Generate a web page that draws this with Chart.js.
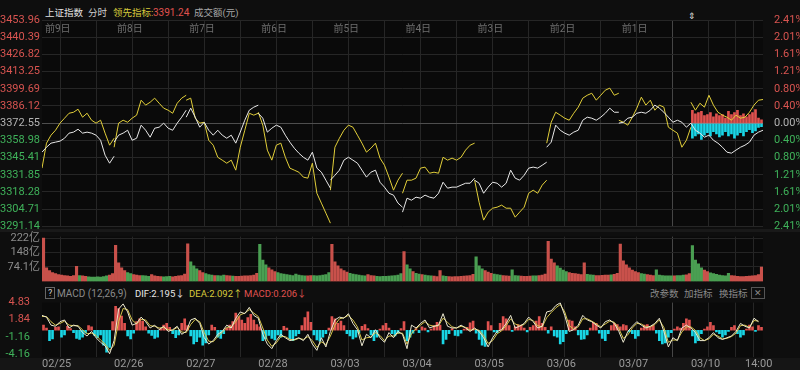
<!DOCTYPE html>
<html>
<head>
<meta charset="utf-8">
<title>上证指数 分时</title>
<script src="https://cdn.jsdelivr.net/npm/chart.js@4.4.1/dist/chart.umd.min.js"></script>
<style>
  body { margin: 0; background: #0e0e0e; width: 800px; height: 370px; overflow: hidden; position: relative;
         font-family: Roboto, "Noto Sans CJK SC", sans-serif; }
  canvas { position: absolute; left: 0; }
  .t { position: absolute; font-size: 9.5px; line-height: 12px; white-space: nowrap; }
  .band { position: absolute; left: 0; width: 800px; background: #191919; }
</style>
</head>
<body>
<div class="band" style="top:229px;height:3px"></div>
<div class="band" style="top:358px;height:12px;background:#151515"></div>

<span class="t" style="left:45px;top:7px;color:#e2e2e2">上证指数</span>
<span class="t" style="left:88px;top:7px;color:#cfcfcf">分时</span>
<span class="t" style="left:113px;top:7px;color:#d8cb3c">领先指标:</span>
<span class="t" id="leadNow" style="left:153px;top:7px;color:#e0524f;font-size:10px"></span>
<span class="t" style="left:194px;top:7px;color:#a8a8a8">成交额(元)</span>
<span class="t" style="left:688px;top:10px;color:#dddddd;font-size:9px">⇕</span>

<span class="t" style="left:45px;top:287px;color:#cfcfcf;border:1px solid #666;padding:0 2px;font-size:9px;line-height:10px">?</span>
<span class="t" style="left:57px;top:288px;color:#8a8a8a;font-size:10px">MACD (12,26,9)</span>
<span class="t" style="left:135px;top:288px;color:#e8e8e8">DIF:2.195↓</span>
<span class="t" style="left:189px;top:288px;color:#d8cb3c">DEA:2.092↑</span>
<span class="t" style="left:244px;top:288px;color:#e0524f">MACD:0.206↓</span>
<span class="t" style="left:650px;top:288px;color:#8a8a8a">改参数</span>
<span class="t" style="left:684px;top:288px;color:#8a8a8a">加指标</span>
<span class="t" style="left:719px;top:288px;color:#8a8a8a">换指标</span>
<span class="t" style="left:751px;top:287px;color:#8a8a8a;border:1px solid #555;padding:0 2px;font-size:9px;line-height:10px">✕</span>

<canvas id="mainChart" width="800" height="236" style="top:0"></canvas>
<canvas id="volChart" width="800" height="62" style="top:228px"></canvas>
<canvas id="macdChart" width="800" height="78" style="top:292px"></canvas>

<script>
// 10 trading days, 240 minutes each
const dates = ['02/25', '02/26', '02/27', '02/28', '03/03', '03/04', '03/05', '03/06', '03/07', '03/10'];
const dayTags = ['前9日', '前8日', '前7日', '前6日', '前5日', '前4日', '前3日', '前2日', '前1日'];
const preClose = 3372.55;
const leftTicks = [3453.96, 3440.39, 3426.82, 3413.25, 3399.69, 3386.12, 3372.55, 3358.98, 3345.41, 3331.85, 3318.28, 3304.71, 3291.14];
const volTicks = [74.1, 148, 222];
const macdTicks = [4.83, 1.84, -1.16, -4.16];

// index (white), every 15 minutes
const indexPrice = [
  [3349.7, 3353.6, 3356.8, 3357.6, 3358.4, 3360.7, 3364.7, 3365.5, 3367.8, 3364.7, 3365.5, 3364.7, 3363.1, 3359.1, 3347.3, 3341.0, 3346.5],
  [3357.6, 3363.1, 3364.7, 3367.0, 3359.1, 3360.7, 3371.0, 3367.0, 3361.5, 3368.6, 3369.4, 3372.6, 3368.6, 3367.0, 3372.6, 3377.3, 3382.8],
  [3377.3, 3384.4, 3377.3, 3369.4, 3373.3, 3367.0, 3363.1, 3367.0, 3363.1, 3360.7, 3363.1, 3356.8, 3365.5, 3374.9, 3382.8, 3385.2, 3386.8],
  [3380.4, 3376.5, 3365.5, 3368.6, 3371.0, 3369.4, 3363.1, 3357.6, 3352.8, 3348.9, 3345.7, 3343.4, 3349.7, 3337.1, 3333.9, 3327.6, 3321.3],
  [3327.6, 3331.5, 3335.5, 3343.4, 3345.7, 3343.4, 3341.0, 3335.5, 3330.0, 3333.9, 3335.5, 3326.0, 3322.1, 3317.3, 3315.8, 3309.5, 3306.3],
  [3302.4, 3313.4, 3311.8, 3314.2, 3313.4, 3315.8, 3314.2, 3313.4, 3317.3, 3326.0, 3321.3, 3322.1, 3322.1, 3323.7, 3325.2, 3325.2, 3329.2],
  [3327.6, 3325.2, 3317.3, 3322.1, 3326.0, 3325.2, 3322.1, 3325.2, 3335.5, 3329.2, 3327.6, 3331.5, 3337.1, 3337.9, 3337.1, 3339.4, 3341.8],
  [3353.6, 3357.6, 3371.0, 3367.0, 3364.7, 3363.1, 3365.5, 3367.0, 3374.9, 3377.3, 3376.5, 3374.9, 3377.3, 3380.4, 3384.4, 3381.2, 3381.2],
  [3372.6, 3373.3, 3376.5, 3377.3, 3380.4, 3381.2, 3380.4, 3382.8, 3386.8, 3384.4, 3381.2, 3377.3, 3373.3, 3374.9, 3373.3, 3369.4, 3372.55],
  [3372.6, 3367.0, 3364.7, 3361.5, 3363.1, 3359.1, 3356.8, 3353.6, 3349.7, 3348.9, 3351.3, 3353.6, 3355.2, 3357.6, 3363.1, 3365.5, 3367.0]
];

// 领先指标 (yellow), every 15 minutes
const leadLine = [
  [3337.1, 3356.8, 3363.1, 3367.0, 3372.6, 3376.5, 3380.4, 3381.2, 3383.6, 3377.3, 3380.4, 3374.9, 3372.6, 3374.9, 3364.7, 3355.2, 3360.7],
  [3353.6, 3372.6, 3374.9, 3373.3, 3376.5, 3378.9, 3390.7, 3386.8, 3389.1, 3392.3, 3388.3, 3384.4, 3382.8, 3380.4, 3388.3, 3392.3, 3394.6],
  [3390.7, 3392.3, 3376.5, 3372.6, 3373.3, 3359.1, 3355.2, 3345.7, 3343.4, 3341.0, 3343.4, 3335.5, 3353.6, 3367.0, 3380.4, 3378.9, 3380.4],
  [3381.2, 3371.0, 3351.3, 3343.4, 3355.2, 3356.8, 3345.7, 3337.1, 3335.5, 3333.9, 3330.0, 3329.2, 3341.0, 3317.3, 3309.5, 3301.6, 3293.7],
  [3319.7, 3353.6, 3360.7, 3367.0, 3371.0, 3369.4, 3363.1, 3356.8, 3349.7, 3352.8, 3356.8, 3345.0, 3339.4, 3330.0, 3319.7, 3327.6, 3333.1],
  [3317.3, 3327.6, 3327.6, 3329.2, 3337.1, 3337.9, 3333.1, 3333.9, 3333.1, 3345.7, 3343.4, 3345.0, 3343.4, 3345.7, 3351.3, 3355.2, 3356.8],
  [3327.6, 3310.2, 3296.1, 3302.4, 3305.5, 3306.3, 3307.9, 3305.5, 3305.5, 3298.4, 3302.4, 3306.3, 3317.3, 3319.7, 3317.3, 3323.7, 3327.6],
  [3356.8, 3373.3, 3381.2, 3378.9, 3376.5, 3374.9, 3380.4, 3385.2, 3392.3, 3394.6, 3396.2, 3390.7, 3394.6, 3398.6, 3400.2, 3394.6, 3396.2],
  [3374.9, 3373.3, 3371.0, 3377.3, 3384.4, 3393.1, 3386.8, 3390.7, 3382.8, 3386.8, 3385.2, 3369.4, 3367.0, 3364.7, 3353.6, 3359.1, 3369.4],
  [3389.1, 3382.8, 3388.3, 3385.2, 3394.6, 3386.8, 3381.2, 3378.9, 3377.3, 3374.9, 3378.9, 3376.5, 3377.3, 3381.2, 3386.8, 3390.7, 3391.24]
];

// today's buy / sell strength (%), every 10 minutes
const todayBuy = [0.30, 0.22, 0.25, 0.28, 0.18, 0.20, 0.25, 0.15, 0.22, 0.18, 0.20, 0.12, 0.28, 0.20, 0.25, 0.30, 0.18, 0.22, 0.15, 0.20, 0.25, 0.32, 0.12, 0.08];
const todaySell = [-0.35, -0.30, -0.25, -0.38, -0.28, -0.22, -0.30, -0.20, -0.25, -0.32, -0.28, -0.20, -0.30, -0.25, -0.35, -0.28, -0.22, -0.30, -0.20, -0.15, -0.22, -0.18, -0.10, -0.08];

// turnover (亿), every 10 minutes
const turnover = [
  [222, 70, 55, 45, 40, 35, 32, 30, 28, 26, 30, 77, 30, 28, 26, 24, 22, 22, 24, 22, 25, 28, 32, 40],
  [185, 95, 70, 55, 45, 40, 35, 32, 30, 30, 28, 26, 35, 28, 26, 25, 24, 25, 26, 24, 26, 28, 30, 38],
  [193, 100, 80, 65, 55, 45, 40, 35, 33, 30, 30, 28, 32, 30, 28, 27, 26, 26, 27, 28, 28, 30, 32, 42],
  [190, 110, 85, 70, 60, 50, 45, 40, 38, 35, 33, 30, 38, 33, 30, 28, 28, 30, 30, 28, 30, 32, 35, 45],
  [190, 100, 80, 65, 55, 48, 42, 38, 35, 32, 30, 28, 35, 30, 28, 26, 25, 26, 26, 27, 28, 30, 32, 40],
  [153, 85, 65, 50, 42, 38, 35, 32, 30, 28, 27, 25, 55, 28, 26, 25, 24, 25, 25, 26, 27, 28, 30, 36],
  [126, 80, 65, 55, 48, 42, 38, 35, 32, 30, 28, 27, 60, 30, 28, 27, 26, 26, 27, 28, 28, 30, 32, 38],
  [206, 115, 95, 80, 68, 58, 50, 45, 42, 40, 38, 35, 95, 36, 34, 32, 30, 30, 31, 32, 33, 34, 36, 42],
  [192, 105, 85, 70, 58, 50, 45, 40, 38, 35, 33, 30, 60, 33, 30, 28, 28, 28, 29, 30, 30, 32, 34, 40],
  [184, 110, 90, 70, 58, 50, 44, 40, 36, 33, 30, 28, 42, 30, 28, 26, 25, 25, 26, 27, 28, 30, 35, 73]
];

// MACD histogram, every 10 minutes
const macdBar = [
  [0.9, 0.4, -1.8, -1.5, 0.5, 0.6, -1.2, -0.8, 0.7, 0.3, -0.4, -1.4, -1.6, -1.2, -0.5, 0.8, 0.6, -0.9, -1.3, -0.8, -2.6, -3.8, -3.0, 1.5],
  [4.2, 3.8, 2.5, 1.2, -1.0, -1.5, -0.5, 1.5, 2.0, 1.6, 0.6, -0.5, -0.9, -1.4, -1.2, 0.3, 0.9, 1.2, 0.5, -0.6, -1.3, -0.8, 1.2, 2.0],
  [0.8, -1.0, -2.4, -2.0, -1.2, -2.6, -2.2, -0.8, 0.9, 0.5, -1.2, -1.4, -0.6, 0.4, 0.9, 1.5, 3.0, 2.4, 1.8, 1.2, 2.2, 2.8, 1.8, 1.0],
  [0.6, -1.8, -1.5, -0.9, -1.4, -1.7, -0.8, -1.2, 0.7, 0.4, -1.5, -1.8, -1.0, -0.6, 0.8, 2.2, 3.2, 1.4, -0.8, -1.7, -1.9, -1.2, -0.6, 0.4],
  [2.4, 2.0, 1.2, 1.6, 0.8, -0.6, -1.0, -1.5, -1.2, -0.4, 0.7, 1.0, 0.3, -0.8, -1.8, -1.2, 0.2, 0.8, 1.2, 0.4, -0.6, -1.0, -0.5, 0.3],
  [1.5, -1.8, -1.2, -0.5, 0.3, -0.4, 0.6, 0.4, -0.3, 0.2, 0.8, 1.4, 0.9, -2.4, -1.6, -0.6, 0.3, -0.9, -1.0, -0.5, 0.2, 0.5, 1.3, 1.6],
  [-0.5, -1.6, -2.6, -2.8, 1.5, 0.8, -0.3, -0.4, 1.2, 2.4, 2.0, 0.8, -0.2, 0.6, 1.0, 0.9, 0.4, -0.3, 0.5, 0.8, 1.6, 2.4, 1.2, 0.5],
  [-0.5, 0.6, -1.0, -1.2, -2.4, -2.0, -0.6, 1.8, 1.6, 0.6, -0.8, -1.6, -1.5, -0.8, 0.4, 1.4, 1.2, -0.5, -1.4, -1.8, -0.6, 0.8, 1.2, 1.0],
  [0.6, 1.0, 0.8, -0.3, -0.6, -1.4, -1.0, 0.4, 0.9, 1.0, 0.6, 0.8, -0.5, -1.8, -2.4, -2.2, -1.2, -0.4, 0.2, 0.6, 0.4, 1.2, 2.0, 1.8],
  [-1.0, -2.2, -1.8, -0.6, 0.2, 0.6, 1.4, 0.8, -0.3, -0.6, -1.2, -0.8, -0.2, 0.5, 0.8, -0.6, -1.2, -0.8, 0.2, 0.9, 0.6, -0.2, 0.8, 0.5]
];

// DIF / DEA, every 15 minutes
const dif = [
  [2.6, 2.3, 0.9, 0.7, 1.5, 1.8, 0.4, 0.9, 0.7, -0.4, -1.0, -0.2, -1.3, -2.1, -2.7, -4.1],
  [-1.8, 3.7, 4.6, 3.2, 0.9, 1.2, 2.3, 1.5, 0.4, 0.9, 0.1, 0.7, -0.2, 0.1, 0.7, -0.7],
  [-0.2, 1.8, 2.1, 1.2, -1.3, -2.4, -1.8, -0.7, -0.2, 0.9, 0.4, 2.1, 3.2, 2.9, 4.0, 2.6],
  [2.1, -0.7, -2.4, -3.2, -1.8, -0.7, -1.3, -1.8, -1.6, -1.3, -1.8, -0.7, -2.4, -3.5, -1.3, -2.9],
  [-0.2, 1.8, 2.3, 2.1, 2.9, 1.2, 0.1, -2.7, -0.7, -1.3, 0.1, -1.3, -2.1, -0.4, -1.3, -0.2],
  [-0.7, -3.2, 0.9, 0.4, 1.2, 1.8, 0.4, 0.7, 0.9, 2.9, 0.7, 0.4, 0.4, 0.9, 0.4, -0.2],
  [0.4, -0.2, -1.3, -2.9, -1.3, -0.2, 0.1, 1.2, 2.6, 0.4, 0.7, 1.2, 2.3, 1.5, 0.4, 0.7],
  [3.2, 3.4, 4.3, 4.8, 2.6, -0.2, 0.1, 0.9, 2.6, 1.8, 1.5, 0.9, 0.4, 1.5, 1.8, 1.2],
  [-0.2, -2.1, -0.2, 0.7, 1.5, 0.9, 0.4, 0.7, 1.2, 2.1, -0.2, -2.9, -1.3, -1.8, 0.4, 0.9],
  [0.4, -0.4, -1.8, -1.8, -1.3, -0.4, -1.3, -1.6, -1.3, -1.0, -0.2, 1.2, 0.7, 0.4, 2.1, 1.5]
];
const dea = [
  [2.4, 2.4, 1.5, 0.9, 1.2, 1.6, 0.9, 0.8, 0.8, 0.1, -0.6, -0.5, -0.9, -1.7, -2.4, -3.5],
  [-2.6, 1.5, 3.8, 3.6, 1.8, 1.1, 1.9, 1.8, 0.8, 0.7, 0.4, 0.5, 0.1, 0.0, 0.5, -0.3],
  [-0.4, 1.0, 1.9, 1.5, -0.4, -1.9, -2.0, -1.1, -0.4, 0.5, 0.6, 1.5, 2.7, 3.0, 3.6, 3.0],
  [2.4, 0.4, -1.7, -2.8, -2.2, -1.1, -1.1, -1.6, -1.7, -1.4, -1.6, -1.1, -1.8, -3.0, -2.0, -2.5],
  [-1.0, 0.9, 2.0, 2.2, 2.6, 1.8, 0.6, -1.7, -1.3, -1.2, -0.4, -0.9, -1.8, -1.0, -1.0, -0.5],
  [-0.5, -2.4, -0.6, 0.3, 0.9, 1.5, 0.9, 0.7, 0.8, 2.1, 1.4, 0.6, 0.4, 0.7, 0.5, 0.0],
  [0.2, 0.0, -0.9, -2.3, -1.8, -0.6, -0.1, 0.8, 2.0, 1.1, 0.8, 1.0, 1.9, 1.7, 0.8, 0.6],
  [2.2, 3.1, 3.9, 4.5, 3.2, 0.8, 0.2, 0.6, 2.0, 2.0, 1.6, 1.1, 0.6, 1.1, 1.6, 1.4],
  [0.3, -1.4, -0.8, 0.4, 1.2, 1.1, 0.6, 0.6, 1.0, 1.8, 0.5, -2.1, -1.7, -1.7, -0.3, 0.6],
  [0.6, 0.0, -1.3, -1.8, -1.5, -0.7, -1.0, -1.5, -1.4, -1.1, -0.5, 0.8, 0.9, 0.5, 1.7, 1.6]
];

const RED = '#e0524f', GREEN = '#3fae5a', CYAN = '#19d6e6';
const TXT_RED = '#d85450', TXT_GREEN = '#3fb25a', TXT_GREY = '#b4b4b4';
const DAY = 240;
const gridMarks = [];
for (let m = 0; m <= 2400; m += 120) gridMarks.push(m);
gridMarks.push(2340);
gridMarks.sort((a, b) => a - b);

document.getElementById('leadNow').textContent = leadLine[9][16].toFixed(2);

// price lines are broken between days
function dayLines(days) {
  const pts = [];
  days.forEach((vals, d) => {
    vals.forEach((v, k) => pts.push({ x: d * DAY + k * 15, y: v }));
    pts.push({ x: (d + 1) * DAY, y: null });
  });
  return pts;
}
const series = (days, step, off) => days.flatMap((vals, d) => vals.map((v, i) => ({ x: d * DAY + i * step + off, y: v })));

// volume bar colour follows the index move in that slot
const volPoints = turnover.flatMap((vals, d) => vals.map((v, i) => {
  const k = Math.floor((i * 10 + 5) / 15);
  const up = indexPrice[d][k + 1] >= indexPrice[d][k];
  return { x: d * DAY + i * 10 + 5, y: v, c: up ? '#c9514b' : '#4a9f52' };
}));

const pctOf = v => (v / preClose - 1) * 100;
const tone = v => v > 0.0001 ? TXT_RED : v < -0.0001 ? TXT_GREEN : TXT_GREY;

function xScale(showLabels) {
  return {
    type: 'linear', min: 0, max: 2400, offset: false,
    afterBuildTicks: s => { s.ticks = gridMarks.map(v => ({ value: v })); },
    afterFit: s => { s.height = showLabels ? 13 : 0; },
    ticks: {
      display: showLabels, autoSkip: false, maxRotation: 0, align: 'start', padding: 1,
      color: '#9a9a9a', font: { size: 11 },
      callback: v => v === 2340 ? '14:00' : (v % DAY === 0 && v < 2400 ? dates[v / DAY] : '')
    },
    grid: { color: c => c.tick && c.tick.value === 2160 ? '#464646' : '#262626', drawTicks: false },
    border: { display: false }
  };
}

const areaFill = {
  id: 'areaFill',
  beforeDraw(chart) {
    const { ctx, chartArea: a } = chart;
    ctx.save();
    ctx.fillStyle = '#0a0a0a';
    ctx.fillRect(a.left, a.top, a.right - a.left, a.bottom - a.top);
    ctx.restore();
  }
};

const dayTagPlugin = {
  id: 'dayTags',
  afterDraw(chart) {
    const { ctx, chartArea, scales } = chart;
    ctx.save();
    ctx.fillStyle = '#6e6e6e';
    ctx.font = '10px Roboto, "Noto Sans CJK SC"';
    ctx.textBaseline = 'middle';
    dayTags.forEach((t, d) => ctx.fillText(t, scales.x.getPixelForValue(d * DAY) + 3, chartArea.top + 9));
    ctx.restore();
  }
};

const common = {
  responsive: false, animation: false, events: [],
  elements: { point: { radius: 0 }, line: { borderWidth: 1, tension: 0 } },
  plugins: { legend: { display: false }, tooltip: { enabled: false } }
};
Chart.defaults.font.family = 'Roboto, "Noto Sans CJK SC", sans-serif';

new Chart(document.getElementById('mainChart'), {
  type: 'line',
  data: {
    datasets: [
      { type: 'bar', label: '买', data: series([todayBuy], 10, 9 * DAY + 5), backgroundColor: RED, barThickness: 2, grouped: false, yAxisID: 'pct', order: 3 },
      { type: 'bar', label: '卖', data: series([todaySell], 10, 9 * DAY + 5), backgroundColor: CYAN, barThickness: 2, grouped: false, yAxisID: 'pct', order: 3 },
      { label: '领先指标', data: dayLines(leadLine), borderColor: '#e2cf3a', yAxisID: 'y', order: 2 },
      { label: '上证指数', data: dayLines(indexPrice), borderColor: '#e8e8e8', yAxisID: 'y', order: 1 }
    ]
  },
  options: {
    ...common,
    layout: { autoPadding: false, padding: { top: 20, bottom: 8 } },
    scales: {
      x: xScale(false),
      y: {
        position: 'left', min: leftTicks[12], max: leftTicks[0],
        afterBuildTicks: s => { s.ticks = leftTicks.map(v => ({ value: v })); },
        afterFit: s => { s.width = 42; },
        ticks: { color: c => tone(c.tick.value - preClose), font: { size: 11 }, padding: 2, callback: v => v.toFixed(2) },
        grid: { color: c => c.tick && Math.abs(c.tick.value - preClose) < 0.001 ? '#4e4e4e' : '#262626', drawTicks: false },
        border: { display: false }
      },
      pct: {
        position: 'right', min: pctOf(leftTicks[12]), max: pctOf(leftTicks[0]),
        afterBuildTicks: s => { s.ticks = leftTicks.map(v => ({ value: pctOf(v) })); },
        afterFit: s => { s.width = 37; },
        ticks: { color: c => tone(c.tick.value), font: { size: 11 }, padding: 3, callback: v => Math.abs(v).toFixed(2) + '%' },
        grid: { display: false },
        border: { display: false }
      }
    }
  },
  plugins: [areaFill, dayTagPlugin]
});

new Chart(document.getElementById('volChart'), {
  type: 'bar',
  data: {
    datasets: [{ label: '成交额', data: volPoints, backgroundColor: c => c.raw ? c.raw.c : GREEN, barThickness: 2.5, grouped: false }]
  },
  options: {
    ...common,
    layout: { autoPadding: false, padding: { top: 5, bottom: 3, right: 37 } },
    scales: {
      x: xScale(false),
      y: {
        min: 0, max: 230,
        afterBuildTicks: s => { s.ticks = volTicks.map(v => ({ value: v })); },
        afterFit: s => { s.width = 42; },
        ticks: { color: '#8c8c8c', font: { size: 11 }, padding: 2, callback: v => v + '亿' },
        grid: { color: '#242424', drawTicks: false },
        border: { display: false }
      }
    }
  },
  plugins: [areaFill]
});

new Chart(document.getElementById('macdChart'), {
  type: 'bar',
  data: {
    datasets: [
      { type: 'line', label: 'DIF', data: series(dif, 15, 0), borderColor: '#ece8d0', order: 1 },
      { type: 'line', label: 'DEA', data: series(dea, 15, 0), borderColor: '#d6c54a', order: 2 },
      { label: 'MACD', data: series(macdBar, 10, 5), backgroundColor: c => c.raw && c.raw.y < 0 ? CYAN : RED, barThickness: 2, grouped: false, order: 3 }
    ]
  },
  options: {
    ...common,
    layout: { autoPadding: false, padding: { top: 8, bottom: 0, right: 37 } },
    scales: {
      x: xScale(true),
      y: {
        min: -4.66, max: 4.83,
        afterBuildTicks: s => { s.ticks = macdTicks.map(v => ({ value: v })); },
        afterFit: s => { s.width = 42; },
        ticks: { color: c => tone(c.tick.value), font: { size: 11 }, padding: 4, callback: v => v.toFixed(2) },
        grid: { display: false },
        border: { display: false }
      }
    }
  },
  plugins: [areaFill]
});
</script>
</body>
</html>
